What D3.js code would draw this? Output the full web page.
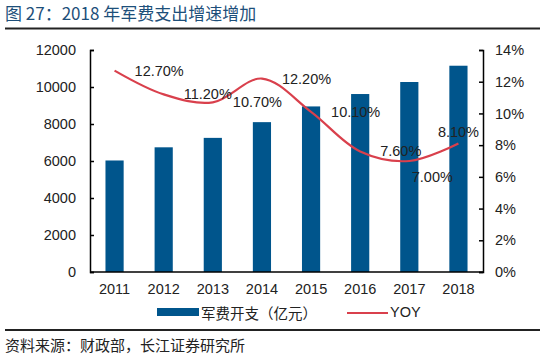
<!DOCTYPE html>
<html><head><meta charset="utf-8">
<script src="https://cdn.jsdelivr.net/npm/d3@7"></script>
<style>
html,body{margin:0;padding:0;background:#fff;}
text{font-family:"Liberation Sans",Arial,"Noto Sans CJK SC",sans-serif;}
</style></head>
<body><svg id="c" width="550" height="358"></svg>
<script>
const years = ["2011","2012","2013","2014","2015","2016","2017","2018"];
const spending = [6028, 6740, 7250, 8100, 8950, 9620, 10270, 11150];
const yoy = [12.7, 11.2, 10.7, 12.2, 10.1, 7.6, 7.0, 8.1];
const yoyLabels = ["12.70%","11.20%","10.70%","12.20%","10.10%","7.60%","7.00%","8.10%"];
const leftTicks = [0,2000,4000,6000,8000,10000,12000];
const rightTicks = [0,2,4,6,8,10,12,14];
const labelPlacement = ["right","right","right","right","right","right","below","above"];

const svg = d3.select("#c");
const cjk = '"Noto Sans CJK SC","Liberation Sans",sans-serif';
const L = 90, R = 483, T = 50, B = 272;

// title
svg.append("text").attr("x",5).attr("y",20).attr("font-size",17)
  .style("font-family",cjk).attr("fill","#1d4f7a").text("图 27：2018 年军费支出增速增加");
svg.append("line").attr("x1",5).attr("x2",540).attr("y1",28.5).attr("y2",28.5)
  .attr("stroke","#222").attr("stroke-width",2);
svg.append("line").attr("x1",5).attr("x2",540).attr("y1",330).attr("y2",330)
  .attr("stroke","#222").attr("stroke-width",2);
svg.append("text").attr("x",5).attr("y",351).attr("font-size",15)
  .style("font-family",cjk).attr("fill","#222").text("资料来源：财政部，长江证券研究所");

const x = d3.scaleBand().domain(years).range([L,R]).paddingInner(0.63).paddingOuter(0.315);
const yL = d3.scaleLinear().domain([0,12000]).range([B,T]);
const yR = d3.scaleLinear().domain([0,14]).range([B,T]);

// bars
svg.append("g").selectAll("rect").data(years).join("rect")
  .attr("x",d=>x(d)).attr("width",x.bandwidth())
  .attr("y",(d,i)=>yL(spending[i])).attr("height",(d,i)=>B-yL(spending[i]))
  .attr("fill","#00558c");

// axes
const gl = svg.append("g").attr("transform",`translate(${L},0)`)
  .call(d3.axisLeft(yL).tickValues(leftTicks).tickSize(-4).tickPadding(14).tickFormat(d3.format("d")));
const gr = svg.append("g").attr("transform",`translate(${R},0)`)
  .call(d3.axisRight(yR).tickValues(rightTicks).tickSize(-4).tickPadding(12).tickFormat(d=>d+"%"));
const gb = svg.append("g").attr("transform",`translate(0,${B})`)
  .call(d3.axisBottom(x).tickSize(0).tickPadding(12));
[gl,gr,gb].forEach(g=>{
  g.select(".domain").attr("stroke","#000").attr("stroke-width",1.5);
  g.selectAll(".tick line").attr("stroke","#000").attr("stroke-width",1.5);
  g.selectAll("text").attr("font-size",14.5).attr("fill","#222")
   .style("font-family",'"Liberation Sans",Arial,sans-serif');
});
gb.select(".domain").attr("d",`M${L},0H${R}`);

// line
const cx = d => x(d)+x.bandwidth()/2;
const line = d3.line().x((d,i)=>cx(years[i])).y(d=>yR(d)).curve(d3.curveCatmullRom.alpha(0.5));
svg.append("path").datum(yoy).attr("d",line).attr("fill","none")
  .attr("stroke","#d9404c").attr("stroke-width",2.2);

// labels
svg.append("g").selectAll("text").data(yoy).join("text")
  .attr("x",(d,i)=>{const p=labelPlacement[i];return cx(years[i])+(p==="right"?20:p==="below"?23:0);})
  .attr("y",(d,i)=>{const p=labelPlacement[i];return yR(d)+(p==="below"?16:p==="above"?-12:0);})
  .attr("text-anchor",(d,i)=>labelPlacement[i]==="right"?"start":"middle")
  .attr("dominant-baseline","central")
  .attr("font-size",14.5).attr("fill","#222").text((d,i)=>yoyLabels[i]);

// legend
const lg = svg.append("g");
lg.append("rect").attr("x",157).attr("y",308).attr("width",42).attr("height",8).attr("fill","#00558c");
lg.append("text").attr("x",201).attr("y",312).attr("dominant-baseline","central")
  .attr("font-size",14.5).style("font-family",cjk).attr("fill","#222").text("军费开支（亿元）");
lg.append("line").attr("x1",347).attr("x2",388).attr("y1",313).attr("y2",313)
  .attr("stroke","#d9404c").attr("stroke-width",2.2);
lg.append("text").attr("x",390).attr("y",312).attr("dominant-baseline","central")
  .attr("font-size",14.5).attr("fill","#222").text("YOY");
</script></body></html>
